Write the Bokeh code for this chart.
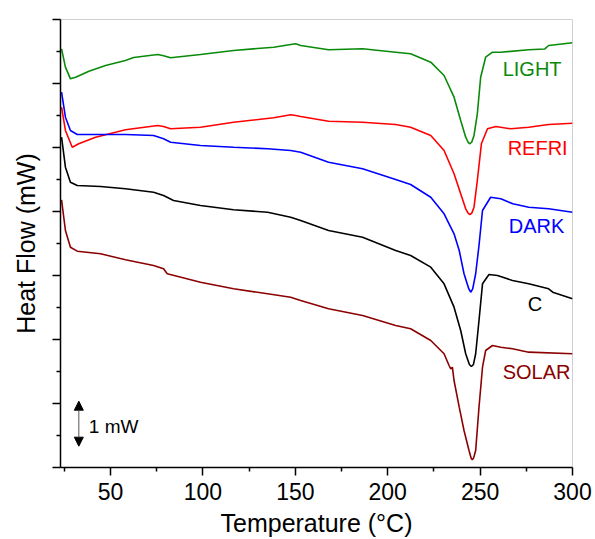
from bokeh.plotting import figure
from bokeh.models import Range1d, FixedTicker, Label, Arrow, NormalHead, CustomLabelingPolicy
from bokeh.embed import file_html
from bokeh.resources import INLINE

# ---- data (temperature in °C, heat flow in offset units, 1 unit = one major y tick) ----
light_x = [23.5, 25.6, 28.3, 31.1, 38.3, 47.3, 58.1, 62.5, 75.5, 78.2, 82.5, 98.7, 116.6, 138.3,
           147.5, 150.2, 152.9, 168.0, 186.4, 204.3, 212.4, 223.3, 230.5, 235.9, 239.5, 242.2,
           243.6, 244.5, 245.5, 246.7, 248.5, 250.3, 253.0, 256.7, 261.2, 276.3, 285.0, 287.1, 300.0]
light_y = [6.542, 6.255, 6.073, 6.099, 6.192, 6.281, 6.359, 6.406, 6.453, 6.438, 6.402, 6.453,
           6.516, 6.567, 6.609, 6.620, 6.594, 6.527, 6.542, 6.489, 6.464, 6.333, 6.125, 5.786,
           5.422, 5.161, 5.078, 5.058, 5.086, 5.188, 5.527, 6.098, 6.411, 6.489, 6.489, 6.527,
           6.540, 6.594, 6.636]

refri_x = [23.5, 25.6, 29.3, 32.8, 41.9, 58.1, 75.5, 78.7, 82.5, 98.7, 116.6, 138.3, 147.5, 150.2,
           152.9, 168.0, 186.4, 204.3, 212.4, 223.3, 230.5, 235.9, 239.5, 242.2, 243.6, 244.5,
           245.5, 246.7, 248.5, 250.7, 254.0, 258.5, 266.6, 276.3, 287.1, 300.0]
refri_y = [5.630, 5.266, 5.005, 5.058, 5.161, 5.277, 5.344, 5.328, 5.292, 5.317, 5.395, 5.464,
           5.511, 5.500, 5.484, 5.411, 5.395, 5.359, 5.317, 5.188, 4.953, 4.589, 4.277, 4.042,
           3.970, 3.953, 3.975, 4.067, 4.484, 5.058, 5.292, 5.328, 5.292, 5.317, 5.359, 5.380]

dark_x = [23.5, 25.6, 28.3, 32.0, 58.1, 73.3, 78.7, 82.5, 98.7, 116.6, 135.0, 147.5, 152.9, 168.0,
          186.4, 204.3, 212.4, 223.3, 230.5, 235.9, 238.7, 241.3, 243.9, 244.9, 246.0, 247.6,
          249.4, 251.3, 255.7, 261.2, 267.7, 276.3, 287.1, 300.0]
dark_y = [5.864, 5.473, 5.266, 5.203, 5.203, 5.188, 5.136, 5.083, 5.031, 5.005, 4.980, 4.953,
          4.927, 4.770, 4.667, 4.500, 4.422, 4.223, 3.964, 3.652, 3.391, 3.027, 2.790, 2.739,
          2.790, 3.027, 3.469, 4.016, 4.223, 4.198, 4.120, 4.067, 4.042, 3.989]

c_x = [23.5, 25.6, 28.3, 32.0, 44.6, 58.1, 73.3, 78.7, 84.1, 98.7, 116.6, 135.0, 147.5, 152.9,
       168.0, 186.4, 204.3, 212.4, 223.3, 230.5, 235.9, 239.5, 242.2, 244.2, 245.3, 246.4,
       247.6, 249.4, 251.3, 254.8, 259.4, 267.5, 276.3, 287.1, 289.3, 300.0]
c_y = [5.161, 4.692, 4.458, 4.406, 4.391, 4.355, 4.302, 4.250, 4.172, 4.094, 4.027, 3.989,
       3.911, 3.859, 3.703, 3.598, 3.391, 3.313, 3.130, 2.870, 2.505, 2.141, 1.777, 1.610,
       1.578, 1.610, 1.777, 2.297, 2.870, 3.016, 3.000, 2.922, 2.870, 2.792, 2.739, 2.636]

solar_x = [23.5, 25.6, 28.3, 32.0, 44.6, 58.1, 73.3, 78.7, 80.7, 98.7, 116.6, 135.0, 147.5, 152.9,
           168.0, 186.4, 204.3, 212.4, 223.3, 230.5, 233.2, 234.1, 235.0, 235.9, 238.7, 241.3,
           244.0, 245.2, 245.8, 246.5, 247.6, 249.4, 251.3, 253.0, 256.7, 261.2, 267.5, 276.3, 300.0]
solar_y = [4.183, 3.703, 3.442, 3.380, 3.339, 3.245, 3.156, 3.105, 3.027, 2.895, 2.792, 2.714,
           2.661, 2.609, 2.480, 2.375, 2.219, 2.167, 1.984, 1.777, 1.594, 1.542, 1.567, 1.359,
           0.942, 0.578, 0.266, 0.140, 0.120, 0.150, 0.266, 0.942, 1.567, 1.828, 1.906, 1.880,
           1.855, 1.802, 1.777]

series_names = ["LIGHT", "REFRI", "DARK", "C", "SOLAR"]
series_x = [light_x, refri_x, dark_x, c_x, solar_x]
series_y = [light_y, refri_y, dark_y, c_y, solar_y]
series_colors = ["#0a8a0a", "#ff0000", "#0000ff", "#000000", "#8b0000"]
label_x = [262.2, 264.9, 265.5, 275.8, 262.2]
label_y = [6.234, 5.0, 3.766, 2.547, 1.5]

x_ticks = [50, 100, 150, 200, 250, 300]
x_minor = [25, 75, 125, 175, 225, 275]
y_major = [0, 1, 2, 3, 4, 5, 6, 7]
y_minor = [0.5, 1.5, 2.5, 3.5, 4.5, 5.5, 6.5]

scale_x = 32.84
scale_y0 = 0.333
scale_y1 = 1.036
scale_text = "1 mW"

FONT = "Liberation Sans"

p = figure(width=595, height=539, x_range=Range1d(22.93, 300), y_range=Range1d(0, 7),
           output_backend="svg", toolbar_location=None,
           min_border_left=60, min_border_right=23, min_border_top=19, min_border_bottom=72)
p.background_fill_color = "white"
p.border_fill_color = "white"
p.outline_line_color = "#cfcfcf"
p.outline_line_width = 1
p.grid.visible = False

for xs, ys, col in zip(series_x, series_y, series_colors):
    p.line(xs, ys, line_color=col, line_width=1.6)

for name, lx, ly, col in zip(series_names, label_x, label_y, series_colors):
    p.add_layout(Label(x=lx, y=ly, text=name, text_font=FONT, text_font_size="20px",
                       text_color=col, text_align="left", text_baseline="middle"))

p.add_layout(Arrow(x_start=scale_x, y_start=scale_y0, x_end=scale_x, y_end=scale_y1,
                   line_color="#555555", line_width=1,
                   start=NormalHead(size=9, fill_color="black", line_color="black"),
                   end=NormalHead(size=9, fill_color="black", line_color="black")))
p.add_layout(Label(x=38.25, y=0.636, text=scale_text, text_font=FONT, text_font_size="19px",
                   text_color="black", text_align="left", text_baseline="middle"))

# x axis
xa = p.xaxis[0]
xa.ticker = FixedTicker(ticks=x_ticks, minor_ticks=x_minor)
xa.axis_label = "Temperature (°C)"
xa.axis_label_text_font = FONT
xa.axis_label_text_font_style = "normal"
xa.axis_label_text_font_size = "25px"
xa.axis_label_text_color = "black"
xa.axis_label_standoff = 6
xa.major_label_text_font = FONT
xa.major_label_text_font_size = "23px"
xa.major_label_text_color = "black"
xa.major_label_standoff = 7
xa.axis_line_color = "black"
xa.axis_line_width = 1.5
xa.major_tick_line_color = "black"
xa.minor_tick_line_color = "black"
xa.major_tick_line_width = 1.5
xa.minor_tick_line_width = 1.5
xa.major_tick_out = 8
xa.major_tick_in = 0
xa.minor_tick_out = 4
xa.minor_tick_in = 0

# y axis (ticks without labels)
ya = p.yaxis[0]
ya.ticker = FixedTicker(ticks=y_major, minor_ticks=y_minor)
ya.axis_label = "Heat Flow (mW)"
ya.axis_label_text_font = FONT
ya.axis_label_text_font_style = "normal"
ya.axis_label_text_font_size = "25px"
ya.axis_label_text_color = "black"
ya.axis_label_standoff = 13
ya.major_label_text_font_size = "0px"
ya.major_label_standoff = 0
ya.major_label_policy = CustomLabelingPolicy(code="for (const i of indices) indices.unset(i)")
ya.axis_line_color = "black"
ya.axis_line_width = 1.5
ya.major_tick_line_color = "black"
ya.minor_tick_line_color = "black"
ya.major_tick_line_width = 1.5
ya.minor_tick_line_width = 1.5
ya.major_tick_out = 8
ya.major_tick_in = 0
ya.minor_tick_out = 4
ya.minor_tick_in = 0

open("out.html", "w").write(file_html(p, INLINE))
